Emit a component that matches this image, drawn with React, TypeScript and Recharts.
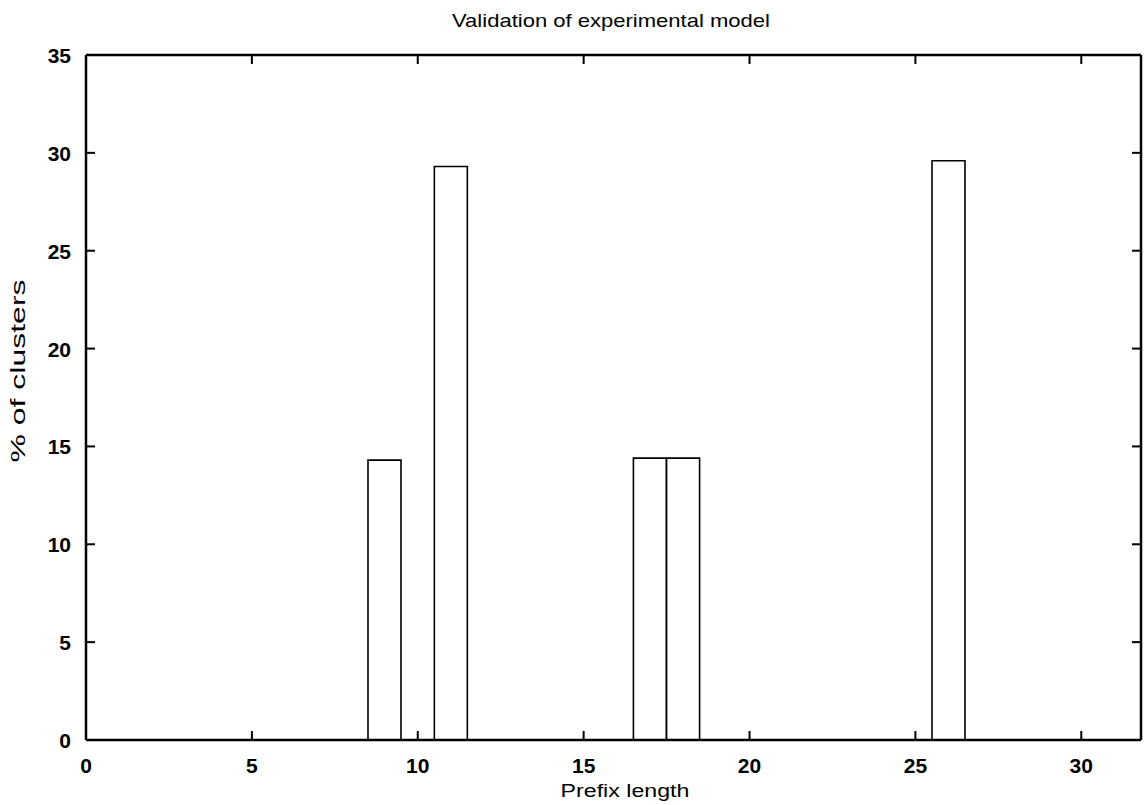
import React from 'react';
import { ComposedChart, Bar, XAxis, YAxis, Label } from 'recharts';

const prefixLengths = [9, 11, 17, 18, 26];
const clusterPct = [14.3, 29.3, 14.4, 14.4, 29.6];
const xTicks = [0, 5, 10, 15, 20, 25, 30];
const yTicks = [0, 5, 10, 15, 20, 25, 30, 35];

const data = prefixLengths.map((p, i) => ({ prefix: p, pct: clusterPct[i] }));

const FONT = '"Liberation Sans", Arial, Helvetica, sans-serif';
const TICK_LEN = 9;

const BottomTick = (props: any) => {
  const { x, y, payload } = props;
  return (
    <g>
      <line x1={x} y1={y} x2={x} y2={y - TICK_LEN} stroke="#000" strokeWidth={2} />
      <text x={x} y={y + 33} textAnchor="middle" fontFamily={FONT} fontSize={21} fontWeight="bold" fill="#000">
        {payload.value}
      </text>
    </g>
  );
};

const TopTick = (props: any) => {
  const { x, y } = props;
  return <line x1={x} y1={y} x2={x} y2={y + TICK_LEN} stroke="#000" strokeWidth={2} />;
};

const LeftTick = (props: any) => {
  const { x, y, payload } = props;
  return (
    <g>
      <line x1={x} y1={y} x2={x + TICK_LEN} y2={y} stroke="#000" strokeWidth={2} />
      <text x={x - 15} y={y + 8} textAnchor="end" fontFamily={FONT} fontSize={21} fontWeight="bold" fill="#000">
        {payload.value}
      </text>
    </g>
  );
};

const RightTick = (props: any) => {
  const { x, y } = props;
  return <line x1={x} y1={y} x2={x - TICK_LEN} y2={y} stroke="#000" strokeWidth={2} />;
};

const axisLine = { stroke: '#000', strokeWidth: 2.5 };

export default function App() {
  return (
    <div style={{ position: 'absolute', left: 0, top: 0, width: 1146, height: 805, background: '#fff' }}>
      <ComposedChart
        width={1146}
        height={805}
        data={data}
        margin={{ top: 25, right: 0, bottom: 25, left: 26 }}
        barCategoryGap={0}
        barGap={0}
      >
        <XAxis
          xAxisId="bottom"
          dataKey="prefix"
          type="number"
          domain={[0, 31.8]}
          ticks={xTicks}
          allowDataOverflow
          height={40}
          tickSize={0}
          tickMargin={0}
          tickLine={false}
          tick={<BottomTick />}
          axisLine={axisLine}
        >
          <Label
            content={() => (
              <g>
                <text
                  transform="translate(625 797) scale(1.22 1)"
                  x={0}
                  y={0}
                  textAnchor="middle"
                  fontFamily={FONT}
                  fontSize={19}
                  fill="#000"
                >
                  Prefix length
                </text>
                <text
                  transform="translate(611 27) scale(1.16 1)"
                  x={0}
                  y={0}
                  textAnchor="middle"
                  fontFamily={FONT}
                  fontSize={19}
                  fill="#000"
                >
                  Validation of experimental model
                </text>
              </g>
            )}
          />
        </XAxis>
        <XAxis
          xAxisId="top"
          orientation="top"
          dataKey="prefix"
          type="number"
          domain={[0, 31.8]}
          ticks={xTicks}
          allowDataOverflow
          height={30}
          tickSize={0}
          tickMargin={0}
          tickLine={false}
          tick={<TopTick />}
          axisLine={axisLine}
        />
        <YAxis
          yAxisId="left"
          type="number"
          domain={[0, 35]}
          ticks={yTicks}
          width={60}
          tickSize={0}
          tickMargin={0}
          tickLine={false}
          tick={<LeftTick />}
          axisLine={axisLine}
        >
          <Label
            content={() => (
              <text
                transform="translate(25 371) rotate(-90) scale(1.6 1)"
                x={0}
                y={0}
                textAnchor="middle"
                fontFamily={FONT}
                fontSize={20}
                fill="#000"
              >
                % of clusters
              </text>
            )}
          />
        </YAxis>
        <YAxis
          yAxisId="right"
          orientation="right"
          type="number"
          domain={[0, 35]}
          ticks={yTicks}
          width={5}
          tickSize={0}
          tickMargin={0}
          tickLine={false}
          tick={<RightTick />}
          axisLine={axisLine}
        />
        <Bar
          xAxisId="bottom"
          yAxisId="left"
          dataKey="pct"
          fill="#fff"
          stroke="#000"
          strokeWidth={1.6}
          isAnimationActive={false}
        />
        <Bar
          xAxisId="top"
          yAxisId="right"
          dataKey="pct"
          fill="none"
          stroke="none"
          isAnimationActive={false}
        />
      </ComposedChart>
    </div>
  );
}
